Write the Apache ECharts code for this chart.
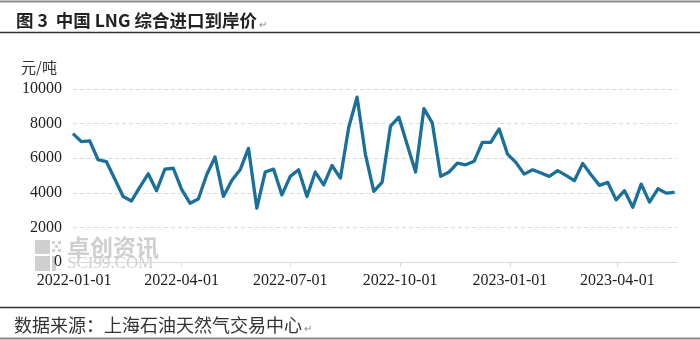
<!DOCTYPE html>
<html>
<head>
<meta charset="utf-8">
<script src="https://cdn.jsdelivr.net/npm/echarts@6/dist/echarts.min.js"></script>
<style>html,body{margin:0;padding:0;background:#fff}#c{width:700px;height:340px}</style>
</head>
<body>
<div id="c"></div>
<script>
// Weekly LNG import price (元/吨), first week 2021-12-31
const startDate = [2021, 11, 31];
const prices = [
  7420, 6960, 7000, 5910, 5800, 4800, 3790, 3530, 4330, 5100,
  4120, 5370, 5420, 4200, 3400, 3640, 5040, 6070, 3790, 4710,
  5330, 6570, 3110, 5200, 5370, 3880, 4950, 5330, 3790, 5200,
  4460, 5580, 4850, 7790, 9530, 6200, 4080, 4620, 7850, 8370,
  6780, 5200, 8870, 8040, 4950, 5200, 5720, 5620, 5820, 6920,
  6920, 7690, 6240, 5760, 5080, 5330, 5140, 4950, 5280, 5010,
  4700, 5700, 5040, 4430, 4600, 3590, 4120, 3170, 4500, 3460,
  4230, 3980, 4020
];
const xTickLabels = ['2022-01-01', '2022-04-01', '2022-07-01', '2022-10-01', '2023-01-01', '2023-04-01'];
const yTicks = [0, 2000, 4000, 6000, 8000, 10000];
const axisEnd = '2023-05-21';

function parseD(s) { const p = s.split('-').map(Number); return new Date(p[0], p[1] - 1, p[2]).getTime(); }
const weekDates = prices.map((_, i) => new Date(startDate[0], startDate[1], startDate[2] + 7 * i).getTime());
const seriesData = prices.map((v, i) => [weekDates[i], v]);
const xTickVals = xTickLabels.map(parseD);
function fmt(t) {
  const d = new Date(t);
  const pad = n => (n < 10 ? '0' : '') + n;
  return d.getFullYear() + '-' + pad(d.getMonth() + 1) + '-' + pad(d.getDate());
}

const chart = echarts.init(document.getElementById('c'), null, { renderer: 'canvas' });
const wmColor = '#cfcfcf';
chart.setOption({
  animation: false,
  backgroundColor: '#fff',
  title: [
    { text: '图 3  中国 LNG 综合进口到岸价{p|↵}', left: 11, top: 7,
      textStyle: { fontFamily: 'Noto Sans CJK SC', fontSize: 17.5, fontWeight: 'bold', color: '#222',
        rich: { p: { fontSize: 10, color: '#888', fontWeight: 'normal', padding: [6, 0, 0, 2] } } } },
    { text: '元/吨', left: 16, top: 55,
      textStyle: { fontFamily: 'Noto Sans CJK SC', fontSize: 15, fontWeight: 'normal', color: '#333' } },
    { text: '数据来源：上海石油天然气交易中心{p|↵}', left: 9, top: 311,
      textStyle: { fontFamily: 'Noto Sans CJK SC', fontSize: 18, fontWeight: 'normal', color: '#333',
        rich: { p: { fontSize: 10, color: '#888', padding: [6, 0, 0, 2] } } } }
  ],
  graphic: [
    { type: 'line', shape: { x1: 0, y1: 1.5, x2: 700, y2: 1.5 }, style: { stroke: '#8a8a8a', lineWidth: 2 } },
    { type: 'line', shape: { x1: 0, y1: 32.5, x2: 700, y2: 32.5 }, style: { stroke: '#333', lineWidth: 1.5 } },
    { type: 'line', shape: { x1: 0, y1: 307.5, x2: 700, y2: 307.5 }, style: { stroke: '#333', lineWidth: 1.5 } },
    { type: 'line', shape: { x1: 0, y1: 338.5, x2: 700, y2: 338.5 }, style: { stroke: '#8a8a8a', lineWidth: 2 } },
    { type: 'rect', shape: { x: 35, y: 240, width: 15, height: 14 }, style: { fill: wmColor }, z: -1 },
    { type: 'rect', shape: { x: 35, y: 256, width: 15, height: 15 }, style: { fill: wmColor }, z: -1 },
    { type: 'rect', shape: { x: 52, y: 241, width: 3, height: 3 }, style: { fill: wmColor }, z: -1 },
    { type: 'rect', shape: { x: 58, y: 241, width: 3, height: 3 }, style: { fill: wmColor }, z: -1 },
    { type: 'rect', shape: { x: 55, y: 245, width: 3, height: 3 }, style: { fill: wmColor }, z: -1 },
    { type: 'rect', shape: { x: 52, y: 249, width: 3, height: 3 }, style: { fill: wmColor }, z: -1 },
    { type: 'rect', shape: { x: 58, y: 249, width: 3, height: 3 }, style: { fill: wmColor }, z: -1 },
    { type: 'rect', shape: { x: 52, y: 256, width: 4, height: 15 }, style: { fill: wmColor }, z: -1 },
    { type: 'text', left: 67, top: 236, z: -1,
      style: { text: '卓创资讯', fill: wmColor, font: 'bold 23px "Noto Sans CJK SC"' } },
    { type: 'text', left: 67, top: 255, z: -1,
      style: { text: 'SCI99.COM', fill: wmColor, font: '17px "Liberation Serif"' } }
  ],
  grid: { left: 73, right: 23, top: 89, bottom: 78, containLabel: false },
  xAxis: {
    type: 'value',
    min: weekDates[0],
    max: parseD(axisEnd),
    axisLine: { show: true, lineStyle: { color: '#d9d9d9', width: 1 } },
    axisTick: { show: true, customValues: xTickVals, length: 5, lineStyle: { color: '#d9d9d9' } },
    axisLabel: {
      customValues: xTickVals,
      formatter: v => fmt(v),
      fontFamily: 'Liberation Serif', fontSize: 16, color: '#222', margin: 11
    },
    splitLine: { show: false }
  },
  yAxis: {
    type: 'value',
    min: yTicks[0], max: yTicks[yTicks.length - 1], interval: 2000,
    axisLine: { show: false },
    axisTick: { show: false },
    axisLabel: { formatter: v => String(v), fontFamily: 'Liberation Serif', fontSize: 16, color: '#222', margin: 11 },
    splitLine: { show: true, lineStyle: { color: '#d9d9d9', type: [4, 3], width: 1 } }
  },
  series: [{
    type: 'line',
    data: seriesData,
    showSymbol: false,
    symbol: 'none',
    lineStyle: { color: '#1a6f9b', width: 3.3, join: 'round' },
    itemStyle: { color: '#1a6f9b' }
  }]
});
</script>
</body>
</html>
